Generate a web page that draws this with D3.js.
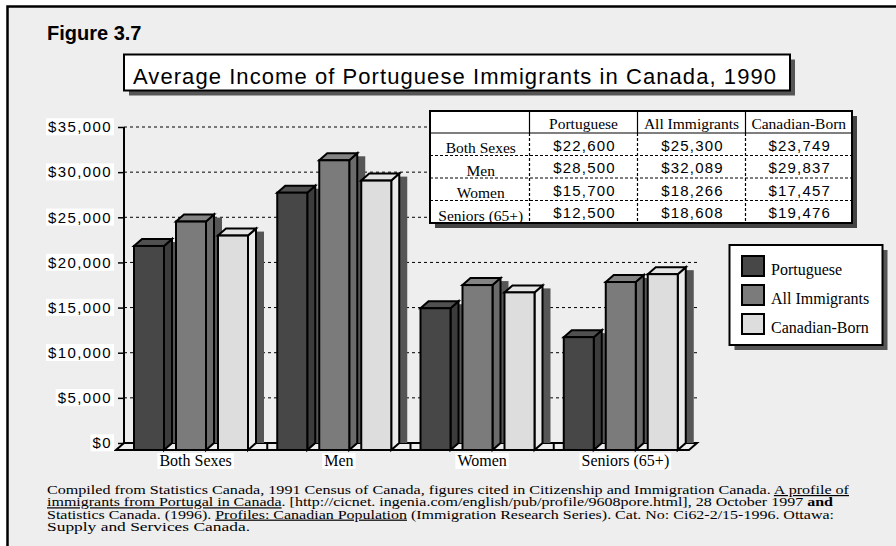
<!DOCTYPE html>
<html>
<head>
<meta charset="utf-8">
<script src="https://cdn.jsdelivr.net/npm/d3@7"></script>
<style>
  body { margin: 0; background: #fff; }
  svg { display: block; }
</style>
</head>
<body>
<div id="chart"></div>
<script>
const categories = ["Both Sexes", "Men", "Women", "Seniors (65+)"];
const seriesNames = ["Portuguese", "All Immigrants", "Canadian-Born"];
const portuguese = [22600, 28500, 15700, 12500];
const allImmigrants = [25300, 32089, 18266, 18608];
const canadianBorn = [23749, 29837, 17457, 19476];
const yTicks = [0, 5000, 10000, 15000, 20000, 25000, 30000, 35000];

const series = [portuguese, allImmigrants, canadianBorn];
const colors = [
  { front: "#474747", top: "#505050", side: "#3c3c3c" },
  { front: "#7b7b7b", top: "#838383", side: "#6b6b6b" },
  { front: "#dddddd", top: "#e4e4e4", side: "#ebebeb" },
];
const shadowColor = "#565656";

const W = 896, H = 546;
const depth = { x: 8, y: 7 };
const svg = d3.select("#chart").append("svg").attr("width", W).attr("height", H);

// background and frame
svg.append("rect").attr("x", 7).attr("y", 6).attr("width", W - 7).attr("height", H - 6).attr("fill", "#eeeeee");
svg.append("path").attr("d", `M7.5,${H} V6.5 H${W}`).attr("fill", "none").attr("stroke", "#000").attr("stroke-width", 2.5);

svg.append("text").text("Figure 3.7").attr("x", 47).attr("y", 40)
  .attr("font-family", "Arial, 'Liberation Sans', sans-serif").attr("font-weight", "bold").attr("font-size", 20);

// boxed title with shadow
const box = (x, y, w, h) => {
  svg.append("rect").attr("x", x + 5).attr("y", y + 5).attr("width", w).attr("height", h).attr("fill", shadowColor);
  svg.append("rect").attr("x", x).attr("y", y).attr("width", w).attr("height", h).attr("fill", "#fff").attr("stroke", "#000").attr("stroke-width", 2);
};
box(124, 54.5, 666, 36);
svg.append("text").text("Average Income of Portuguese Immigrants in Canada, 1990")
  .attr("x", 133).attr("y", 84).attr("font-family", "Arial, 'Liberation Sans', sans-serif").attr("font-size", 22)
  .attr("textLength", 643).attr("lengthAdjust", "spacing");

// scales
const x = d3.scaleBand().domain(categories).range([124, 697]);
const y = d3.scaleLinear().domain([0, 35000]).range([443, 127]);

// gridlines
svg.append("g").selectAll("line").data(yTicks.filter((d) => d > 0)).enter().append("line")
  .attr("x1", 124).attr("x2", 697).attr("y1", (d) => y(d)).attr("y2", (d) => y(d))
  .attr("stroke", "#000").attr("stroke-width", 1).attr("stroke-dasharray", "3,3");

// floor
const x0 = x.range()[0], x1 = x.range()[1], yb = y(0);
svg.append("path")
  .attr("d", `M${x0},${yb} H${x1} L${x1 - depth.x},${yb + depth.y} H${x0 - depth.x} Z`)
  .attr("fill", "#eeeeee").attr("stroke", "#000").attr("stroke-width", 2);
svg.append("g").selectAll("line").data(categories.slice(1)).enter().append("line")
  .attr("x1", (d) => x(d)).attr("x2", (d) => x(d)).attr("y1", yb).attr("y2", yb + depth.y)
  .attr("stroke", "#000").attr("stroke-width", 2);

// y axis
const yAxis = svg.append("g").attr("transform", `translate(${x0},0)`)
  .call(d3.axisLeft(y).tickValues(yTicks).tickFormat(d3.format("$,")).tickSize(6).tickPadding(6));
yAxis.select(".domain").remove();
yAxis.selectAll(".tick line").attr("stroke-width", 1.5);
yAxis.selectAll("text").attr("font-family", "Arial, 'Liberation Sans', sans-serif").attr("font-size", 15)
  .attr("letter-spacing", 1.4).attr("fill", "#000");
yAxis.selectAll(".tick").each(function () {
  const t = d3.select(this).select("text");
  const b = t.node().getBBox();
  d3.select(this).insert("rect", "text").attr("x", b.x - 2).attr("y", b.y).attr("width", b.width + 4).attr("height", b.height).attr("fill", "#fff");
});
svg.append("line").attr("x1", x0).attr("x2", x0).attr("y1", y(35000)).attr("y2", yb).attr("stroke", "#000").attr("stroke-width", 2);

// 3D bars
const bars = svg.append("g");
categories.forEach((cat, ci) => {
  series.forEach((vals, si) => {
    const v = vals[ci];
    const fx = x(cat) + 18 + si * 42 - depth.x;
    const bw = 30;
    const ft = y(v) + depth.y;
    const fb = yb + depth.y;
    bars.append("rect").attr("x", fx + bw + depth.x).attr("y", y(v) + 3).attr("width", 8).attr("height", yb - y(v) - 3).attr("fill", shadowColor);
    const g = bars.append("g").attr("stroke", "#000").attr("stroke-width", 2).attr("stroke-linejoin", "miter");
    g.append("path").attr("fill", colors[si].side)
      .attr("d", `M${fx + bw},${ft} L${fx + bw + depth.x},${ft - depth.y} V${fb - depth.y} L${fx + bw},${fb} Z`);
    g.append("path").attr("fill", colors[si].top)
      .attr("d", `M${fx},${ft} L${fx + depth.x},${ft - depth.y} H${fx + bw + depth.x} L${fx + bw},${ft} Z`);
    g.append("rect").attr("x", fx).attr("y", ft).attr("width", bw).attr("height", fb - ft).attr("fill", colors[si].front);
  });
});

// category labels
const xl = svg.append("g");
categories.forEach((cat) => {
  const t = xl.append("text").text(cat).attr("x", x(cat) + x.bandwidth() / 2).attr("y", 466)
    .attr("text-anchor", "middle").attr("font-family", "'Times New Roman', 'Liberation Serif', serif").attr("font-size", 16);
  const b = t.node().getBBox();
  xl.insert("rect", "text").attr("x", b.x - 2).attr("y", b.y + 1).attr("width", b.width + 4).attr("height", b.height - 1).attr("fill", "#fff");
});

// data table
const colX = [430, 529.5, 637.5, 745.5, 852];
const rowY = [111, 133, 155.5, 178, 200.5, 223];
const fmt = d3.format("$,");
svg.append("rect").attr("x", colX[0] + 5).attr("y", rowY[0] + 5).attr("width", colX[4] - colX[0]).attr("height", rowY[5] - rowY[0]).attr("fill", "#444");
svg.append("rect").attr("x", colX[0]).attr("y", rowY[0]).attr("width", colX[4] - colX[0]).attr("height", rowY[5] - rowY[0]).attr("fill", "#fff");
const tbl = svg.append("g");
colX.slice(1, 4).forEach((cx) => {
  tbl.append("line").attr("x1", cx).attr("x2", cx).attr("y1", rowY[0]).attr("y2", rowY[1]).attr("stroke", "#000").attr("stroke-width", 1.2);
  tbl.append("line").attr("x1", cx).attr("x2", cx).attr("y1", rowY[1]).attr("y2", rowY[5]).attr("stroke", "#000").attr("stroke-width", 1.2).attr("stroke-dasharray", "3,2");
});
tbl.append("line").attr("x1", colX[0]).attr("x2", colX[4]).attr("y1", rowY[1]).attr("y2", rowY[1]).attr("stroke", "#000").attr("stroke-width", 1.2);
rowY.slice(2, 5).forEach((ry) => {
  tbl.append("line").attr("x1", colX[0]).attr("x2", colX[4]).attr("y1", ry).attr("y2", ry).attr("stroke", "#000").attr("stroke-width", 1).attr("stroke-dasharray", "3,2");
});
seriesNames.forEach((s, si) => {
  tbl.append("text").text(s).attr("x", (colX[si + 1] + colX[si + 2]) / 2).attr("y", rowY[1] - 4)
    .attr("text-anchor", "middle").attr("font-family", "'Times New Roman', 'Liberation Serif', serif").attr("font-size", 15.5);
});
categories.forEach((cat, ci) => {
  tbl.append("text").text(cat).attr("x", (colX[0] + colX[1]) / 2 + 1).attr("y", rowY[ci + 2] - 2.5)
    .attr("text-anchor", "middle").attr("font-family", "'Times New Roman', 'Liberation Serif', serif").attr("font-size", 15.5);
  series.forEach((vals, si) => {
    tbl.append("text").text(fmt(vals[ci])).attr("x", (colX[si + 1] + colX[si + 2]) / 2 + 1).attr("y", rowY[ci + 2] - 5)
      .attr("text-anchor", "middle").attr("font-family", "Arial, 'Liberation Sans', sans-serif").attr("font-size", 15).attr("letter-spacing", 1.2);
  });
});
svg.append("rect").attr("x", colX[0]).attr("y", rowY[0]).attr("width", colX[4] - colX[0]).attr("height", rowY[5] - rowY[0])
  .attr("fill", "none").attr("stroke", "#000").attr("stroke-width", 2);

// legend
box(729.5, 245, 153, 100);
const lg = svg.append("g");
seriesNames.forEach((s, si) => {
  const ly = 256 + si * 29;
  lg.append("rect").attr("x", 742).attr("y", ly).attr("width", 22).attr("height", 20).attr("fill", colors[si].front).attr("stroke", "#000").attr("stroke-width", 2);
  lg.append("text").text(s).attr("x", 771).attr("y", ly + 19).attr("font-family", "'Times New Roman', 'Liberation Serif', serif").attr("font-size", 16);
});

// source note
const notes = [
  { w: 802, parts: [["Compiled from Statistics Canada, 1991 Census of Canada, figures cited in Citizenship and Immigration Canada. "], ["A profile of", "u"]] },
  { w: 786, parts: [["immigrants from Portugal in Canada", "u"], [". [http://cicnet. ingenia.com/english/pub/profile/9608pore.html], 28 October 1997 "], ["and", "b"]] },
  { w: 787, parts: [["Statistics Canada. (1996). "], ["Profiles: Canadian Population", "u"], [" (Immigration Research Series). Cat. No: Ci62-2/15-1996. Ottawa:"]] },
  { w: 203, parts: [["Supply and Services Canada."]] },
];
const note = svg.append("g").attr("font-family", "'Times New Roman', 'Liberation Serif', serif").attr("font-size", 12);
notes.forEach((ln, i) => {
  const t = note.append("text").attr("x", 47).attr("y", 494 + i * 12.3).attr("textLength", ln.w).attr("lengthAdjust", "spacingAndGlyphs");
  ln.parts.forEach(([s, st]) => {
    const ts = t.append("tspan").text(s);
    if (st === "u") ts.attr("text-decoration", "underline");
    if (st === "b") ts.attr("font-weight", "bold");
  });
});
</script>
</body>
</html>
